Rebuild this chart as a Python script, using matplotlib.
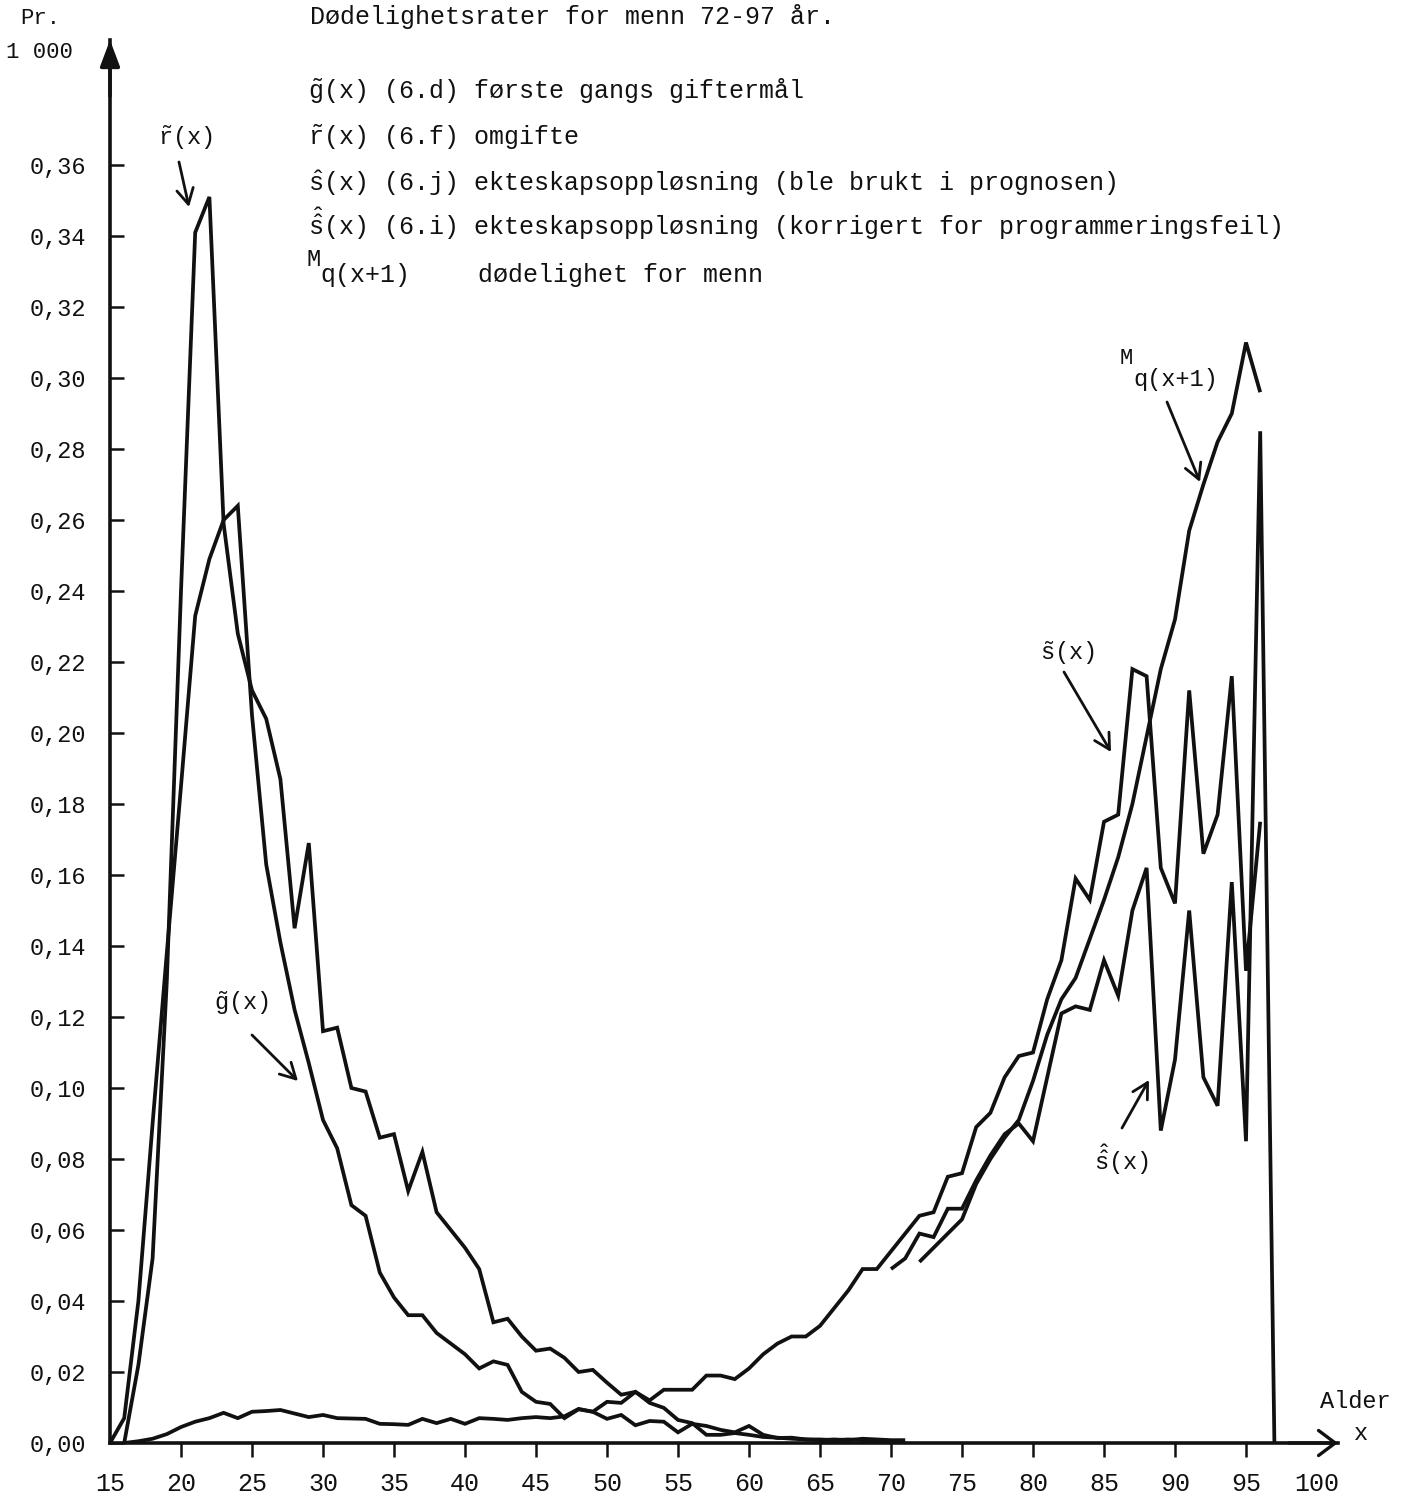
import numpy as np
import matplotlib
matplotlib.use('Agg')
import matplotlib.pyplot as plt

plt.rcParams['mathtext.fontset'] = 'custom'
plt.rcParams['mathtext.rm'] = 'Liberation Mono'
plt.rcParams['mathtext.it'] = 'Liberation Mono'
plt.rcParams['mathtext.bf'] = 'Liberation Mono'

# ---------------- data (rates per 1 000 -> shown as fractions) ----------------
# g~(x) (6.d) first marriage, ages 15..71
g_start = 15
g_vals = [0.0, 0.007, 0.040, 0.090, 0.138, 0.185, 0.233, 0.249, 0.260, 0.264,
          0.205, 0.163, 0.141, 0.122, 0.107, 0.091, 0.083, 0.067, 0.064, 0.048,
          0.041, 0.036, 0.036, 0.031, 0.028, 0.025, 0.021, 0.023, 0.022, 0.0144,
          0.0116, 0.011, 0.007, 0.0095, 0.0088, 0.0068, 0.0079, 0.005, 0.0062, 0.006,
          0.003, 0.0054, 0.0048, 0.0037, 0.003, 0.0048, 0.0023, 0.0014, 0.0015, 0.001,
          0.0008, 0.001, 0.0008, 0.0012, 0.001, 0.0008, 0.0008]

# r~(x) (6.f) remarriage, ages 16..70
r_start = 16
r_vals = [0.0, 0.022, 0.052, 0.130, 0.240, 0.341, 0.351, 0.259, 0.228, 0.212,
          0.204, 0.187, 0.145, 0.169, 0.116, 0.117, 0.100, 0.099, 0.086, 0.087,
          0.071, 0.082, 0.065, 0.060, 0.055, 0.049, 0.034, 0.035, 0.030, 0.026,
          0.0266, 0.024, 0.020, 0.0206, 0.017, 0.0136, 0.0144, 0.0113, 0.0099, 0.0065,
          0.0056, 0.0023, 0.0023, 0.0028, 0.0023, 0.0017, 0.0015, 0.0012, 0.001, 0.001,
          0.0008, 0.001, 0.0008, 0.0008, 0.0005]

# s~(x) (6.j) dissolution of marriage (used in the projection), ages 16..96
s_start = 16
s_vals = [0.0, 0.0005, 0.0012, 0.0025, 0.0045, 0.006, 0.007, 0.0085, 0.007, 0.0088,
          0.009, 0.0093, 0.0083, 0.0073, 0.0079, 0.007, 0.0069, 0.0068, 0.0054, 0.0053,
          0.0051, 0.0068, 0.0056, 0.0068, 0.0054, 0.007, 0.0068, 0.0065, 0.007, 0.0073,
          0.007, 0.0075, 0.0096, 0.0088, 0.0116, 0.0113, 0.0144, 0.012, 0.015, 0.015,
          0.015, 0.019, 0.019, 0.018, 0.021, 0.025, 0.028, 0.030, 0.030, 0.033,
          0.038, 0.043, 0.049, 0.049, 0.054, 0.059, 0.064, 0.065, 0.075, 0.076,
          0.089, 0.093, 0.103, 0.109, 0.110, 0.125, 0.136, 0.159, 0.153, 0.175,
          0.177, 0.218, 0.216, 0.162, 0.152, 0.212, 0.166, 0.177, 0.216, 0.133,
          0.175]

# s^^(x) (6.i) dissolution of marriage (corrected), ages 70..97
sc_start = 70
sc_vals = [0.049, 0.052, 0.059, 0.058, 0.066, 0.066, 0.074, 0.081, 0.087, 0.090,
           0.085, 0.103, 0.121, 0.123, 0.122, 0.136, 0.126, 0.150, 0.162, 0.088,
           0.108, 0.150, 0.103, 0.095, 0.158, 0.085, 0.285, 0.0]

# M q(x+1) mortality for men, ages 72..96
m_start = 72
m_vals = [0.051, 0.055, 0.059, 0.063, 0.073, 0.080, 0.086, 0.091, 0.102, 0.115,
          0.125, 0.131, 0.142, 0.153, 0.165, 0.180, 0.199, 0.218, 0.232, 0.257,
          0.270, 0.282, 0.290, 0.310, 0.296]

x_ticks = [15, 20, 25, 30, 35, 40, 45, 50, 55, 60, 65, 70, 75, 80, 85, 90, 95, 100]
x_labels = [str(v) for v in x_ticks]
y_ticks = [0.00, 0.02, 0.04, 0.06, 0.08, 0.10, 0.12, 0.14, 0.16, 0.18,
           0.20, 0.22, 0.24, 0.26, 0.28, 0.30, 0.32, 0.34, 0.36]
y_labels = ['0,00', '0,02', '0,04', '0,06', '0,08', '0,10', '0,12', '0,14', '0,16', '0,18',
            '0,20', '0,22', '0,24', '0,26', '0,28', '0,30', '0,32', '0,34', '0,36']

title = 'Dødelighetsrater for menn 72-97 år.'
legend_lines = [
    r'$\tilde{\mathrm{g}}$(x) (6.d) første gangs giftermål',
    r'$\tilde{\mathrm{r}}$(x) (6.f) omgifte',
    r'$\hat{\mathrm{s}}$(x) (6.j) ekteskapsoppløsning (ble brukt i prognosen)',
    r'$\hat{\hat{\mathrm{s}}}$(x) (6.i) ekteskapsoppløsning (korrigert for programmeringsfeil)',
]

# ---------------- figure ----------------
W, H = 1413, 1496
fig = plt.figure(figsize=(W / 100, H / 100), dpi=100)
fig.patch.set_facecolor('white')

L_PX, B_PX, R_PX, T_PX = 110, 1443, 1338, 40
PX_YEAR, PX_UNIT = 14.2, 3550.0
ax = fig.add_axes([L_PX / W, (H - B_PX) / H, (R_PX - L_PX) / W, (B_PX - T_PX) / H])
ax.set_xlim(15, 15 + (R_PX - L_PX) / PX_YEAR)
ax.set_ylim(0, (B_PX - T_PX) / PX_UNIT)

ink = '#111111'
lw = 2.7
for start, vals in [(g_start, g_vals), (r_start, r_vals), (s_start, s_vals),
                    (sc_start, sc_vals), (m_start, m_vals)]:
    ages = np.arange(start, start + len(vals))
    ax.plot(ages, vals, color=ink, lw=lw, solid_joinstyle='miter', solid_capstyle='butt')

for sp in ['top', 'right']:
    ax.spines[sp].set_visible(False)
for sp in ['left', 'bottom']:
    ax.spines[sp].set_linewidth(2.6)
    ax.spines[sp].set_color(ink)

ax.set_xticks(x_ticks)
ax.set_xticklabels(x_labels, fontfamily='Liberation Mono', fontsize=18)
ax.set_yticks(y_ticks)
ax.set_yticklabels(y_labels, fontfamily='Liberation Mono', fontsize=17)
ax.tick_params(axis='x', direction='out', length=10, width=1.8, pad=11, colors=ink)
ax.tick_params(axis='y', direction='in', length=10, width=1.8, pad=17, colors=ink)
xt = ax.xaxis.get_major_ticks()
xt[0].tick1line.set_visible(False)
xt[-1].tick1line.set_visible(False)

# axis arrow heads
ax.annotate('', xy=(0, 1), xytext=(0, 0.96), xycoords='axes fraction',
            arrowprops=dict(arrowstyle='-|>,head_length=0.8,head_width=0.3', lw=2.6,
                            color=ink, mutation_scale=20, shrinkA=0, shrinkB=0))
ax.annotate('', xy=(1, 0), xytext=(0.96, 0), xycoords='axes fraction',
            arrowprops=dict(arrowstyle='->,head_length=0.6,head_width=0.45', lw=2.4,
                            color=ink, mutation_scale=20, shrinkA=0, shrinkB=0))


def ftxt(x, y, s, size=18, family='Liberation Mono', **kw):
    fig.text(x / W, 1 - y / H, s, fontsize=size, fontfamily=family, color=ink,
             va='baseline', ha='left', **kw)


def farrow(x0, y0, x1, y1):
    ax.annotate('', xy=(x1, H - y1), xytext=(x0, H - y0), xycoords='figure pixels',
                textcoords='figure pixels',
                arrowprops=dict(arrowstyle='->,head_length=0.55,head_width=0.3', lw=2.0,
                                color=ink, mutation_scale=20, shrinkA=0, shrinkB=0))


# axis captions
ftxt(20, 24, 'Pr.', size=16)
ftxt(6, 58, '1 000', size=16)
ftxt(1320, 1408, 'Alder', size=17)
ftxt(1354, 1440, 'x', size=17)

# legend block
ftxt(310, 24, title)
for i, s in enumerate(legend_lines):
    ftxt(308, [99, 145, 191, 235][i], s)
ftxt(307, 266, 'M', size=17)
ftxt(320, 282, 'q(x+1)', size=18)
ftxt(478, 282, 'dødelighet for menn', size=18)

# curve labels + arrows
ftxt(158, 145, r'$\tilde{\mathrm{r}}$(x)', size=17)
farrow(179, 162, 189, 207)
ftxt(214, 1010, r'$\tilde{\mathrm{g}}$(x)', size=17)
farrow(252, 1035, 298, 1081)
ftxt(1040, 660, r'$\tilde{\mathrm{s}}$(x)', size=17)
farrow(1064, 672, 1111, 752)
ftxt(1094, 1170, r'$\hat{\hat{\mathrm{s}}}$(x)', size=17)
farrow(1122, 1128, 1149, 1080)
ftxt(1120, 364, 'M', size=16)
ftxt(1133, 386, 'q(x+1)', size=17)
farrow(1167, 402, 1200, 482)

fig.savefig('out.png', dpi=100, facecolor='white')
